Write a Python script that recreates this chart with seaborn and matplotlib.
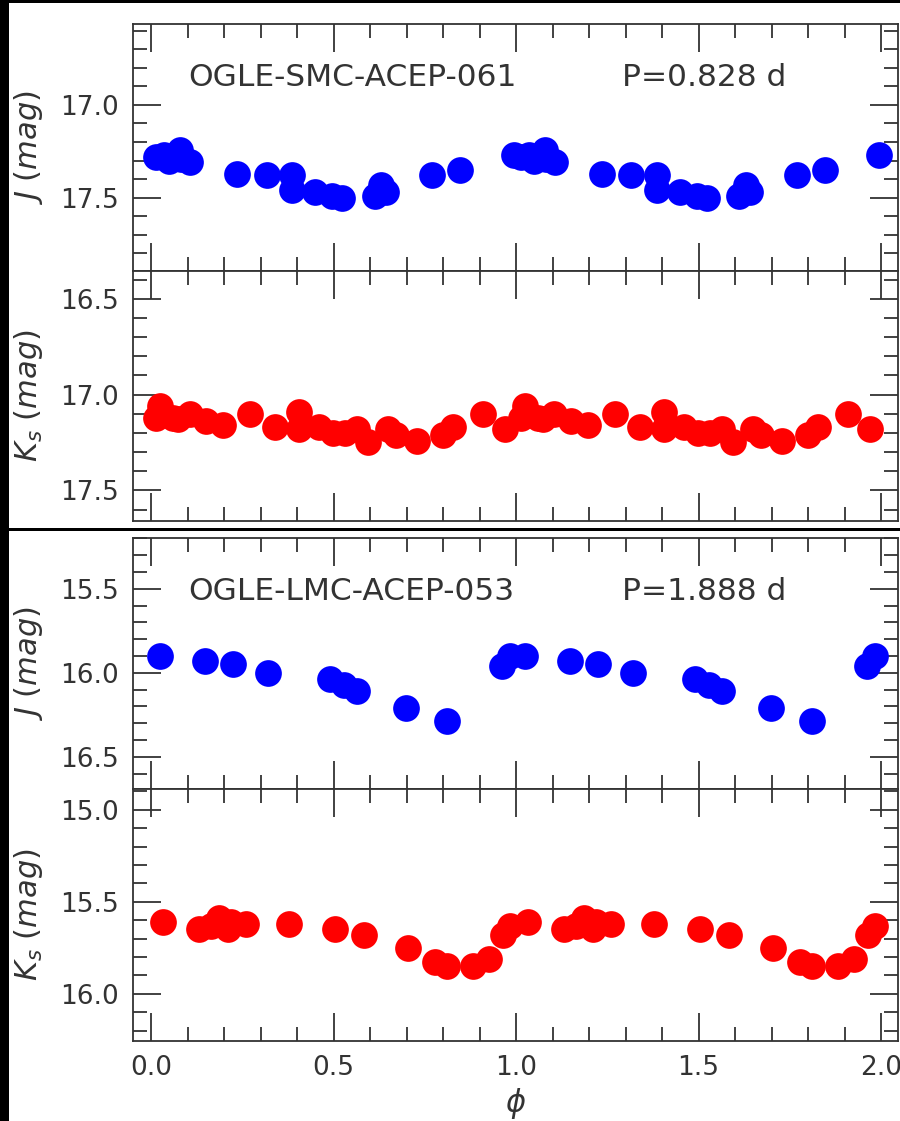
import numpy as np
import pandas as pd
import seaborn as sns
import matplotlib.pyplot as plt
from matplotlib.ticker import MultipleLocator
from matplotlib.patches import Rectangle

# ---- light-curve data (phase in [0, 1), magnitude) ----
smc_name = "OGLE-SMC-ACEP-061"
smc_period = "P=0.828 d"
smc_j_phase = [0.014, 0.036, 0.050, 0.080, 0.082, 0.107, 0.235, 0.316, 0.385, 0.385,
               0.449, 0.496, 0.524, 0.612, 0.630, 0.642, 0.770, 0.847, 0.995]
smc_j_mag = [17.28, 17.27, 17.30, 17.245, 17.29, 17.31, 17.37, 17.38, 17.38, 17.46,
             17.47, 17.49, 17.50, 17.49, 17.43, 17.47, 17.38, 17.35, 17.27]
smc_k_phase = [0.014, 0.023, 0.060, 0.073, 0.105, 0.150, 0.196, 0.270, 0.340, 0.405,
               0.405, 0.460, 0.497, 0.530, 0.565, 0.593, 0.648, 0.670, 0.728, 0.800,
               0.828, 0.910, 0.970]
smc_k_mag = [17.12, 17.06, 17.12, 17.13, 17.10, 17.14, 17.16, 17.10, 17.17, 17.09,
             17.18, 17.17, 17.20, 17.20, 17.18, 17.25, 17.18, 17.21, 17.24, 17.21,
             17.17, 17.10, 17.18]

lmc_name = "OGLE-LMC-ACEP-053"
lmc_period = "P=1.888 d"
lmc_j_phase = [0.025, 0.148, 0.223, 0.321, 0.490, 0.528, 0.565, 0.698, 0.810, 0.962, 0.984]
lmc_j_mag = [15.90, 15.93, 15.95, 16.00, 16.04, 16.07, 16.11, 16.21, 16.29, 15.96, 15.90]
lmc_k_phase = [0.032, 0.132, 0.164, 0.187, 0.210, 0.219, 0.260, 0.378, 0.503, 0.583,
               0.704, 0.777, 0.810, 0.883, 0.925, 0.965, 0.982]
lmc_k_mag = [15.61, 15.65, 15.63, 15.59, 15.65, 15.61, 15.62, 15.62, 15.65, 15.68,
             15.75, 15.83, 15.85, 15.85, 15.81, 15.68, 15.63]

x_ticklabels = ["0.0", "0.5", "1.0", "1.5", "2.0"]

sns.set_style("ticks")
plt.rcParams['font.family'] = ['DejaVu Sans']
plt.rcParams['mathtext.fontset'] = 'dejavusans'

INK = '0.2'
W_PX, H_PX = 900, 1121
fig = plt.figure(figsize=(W_PX / 100, H_PX / 100), dpi=100)
fig.patch.set_facecolor('white')

LEFT, RIGHT = 133, 897.5


def axes_rect(top, bottom):
    return [LEFT / W_PX, 1 - bottom / H_PX, (RIGHT - LEFT) / W_PX, (bottom - top) / H_PX]


def two_cycles(phase, mag):
    ph = np.asarray(phase)
    mg = np.asarray(mag)
    return pd.DataFrame({"phase": np.concatenate([ph, ph + 1.0]),
                         "mag": np.concatenate([mg, mg])})


def panel(rect, phase, mag, color, ylim, ylabel, show_x):
    ax = fig.add_axes(rect)
    sns.scatterplot(data=two_cycles(phase, mag), x="phase", y="mag", color=color,
                    s=370, linewidth=0, legend=False, ax=ax, zorder=3)
    ax.set_xlim(-0.05, 2.045)
    ax.set_ylim(*ylim)
    ax.xaxis.set_major_locator(MultipleLocator(0.5))
    ax.xaxis.set_minor_locator(MultipleLocator(0.1))
    ax.yaxis.set_major_locator(MultipleLocator(0.5))
    ax.yaxis.set_minor_locator(MultipleLocator(0.1))
    ax.tick_params(which='both', direction='in', top=True, right=True,
                   color=INK, width=1.3, labelcolor=INK, labelsize=19, pad=10)
    ax.tick_params(which='major', length=20)
    ax.tick_params(which='minor', length=10)
    for sp in ax.spines.values():
        sp.set_visible(True)
        sp.set_color(INK)
        sp.set_linewidth(1.3)
    ax.set_ylabel(ylabel, fontsize=22, color=INK)
    ax.yaxis.set_label_coords(-0.115, 0.5)
    if show_x:
        ax.set_xticks([0, 0.5, 1.0, 1.5, 2.0])
        ax.set_xticklabels(x_ticklabels)
        ax.set_xlabel(r'$\phi$', fontsize=22, color=INK)
        ax.xaxis.set_label_coords(0.5, -0.18)
    else:
        ax.set_xlabel('')
        ax.tick_params(axis='x', labelbottom=False)
    return ax


ax1 = panel(axes_rect(24, 271), smc_j_phase, smc_j_mag, (0, 0, 1),
            (17.895, 16.565), r'$J\ (mag)$', False)
ax2 = panel(axes_rect(271, 521), smc_k_phase, smc_k_mag, (1, 0, 0),
            (17.66, 16.355), r'$K_s\ (mag)$', False)
ax3 = panel(axes_rect(538, 789), lmc_j_phase, lmc_j_mag, (0, 0, 1),
            (16.692, 15.198), r'$J\ (mag)$', False)
ax4 = panel(axes_rect(789, 1041), lmc_k_phase, lmc_k_mag, (1, 0, 0),
            (16.257, 14.887), r'$K_s\ (mag)$', True)

for ax, name, per in [(ax1, smc_name, smc_period), (ax3, lmc_name, lmc_period)]:
    ax.text(0.072, 0.751, name, transform=ax.transAxes, fontsize=22.5,
            color=INK, ha='left', va='baseline')
    ax.text(0.639, 0.751, per, transform=ax.transAxes, fontsize=22.5,
            color=INK, ha='left', va='baseline')

# dark frame strips and the divider between the two stars
fig.add_artist(Rectangle((0, 0), 8.5 / W_PX, 1, transform=fig.transFigure,
                         facecolor='black', edgecolor='none', zorder=20))
fig.add_artist(Rectangle((0, 1 - 3 / H_PX), 1, 3 / H_PX, transform=fig.transFigure,
                         facecolor='black', edgecolor='none', zorder=20))
fig.add_artist(Rectangle((0, 1 - 531 / H_PX), 1, 3 / H_PX, transform=fig.transFigure,
                         facecolor='black', edgecolor='none', zorder=20))

fig.savefig("out.png", dpi=100, facecolor='white')
